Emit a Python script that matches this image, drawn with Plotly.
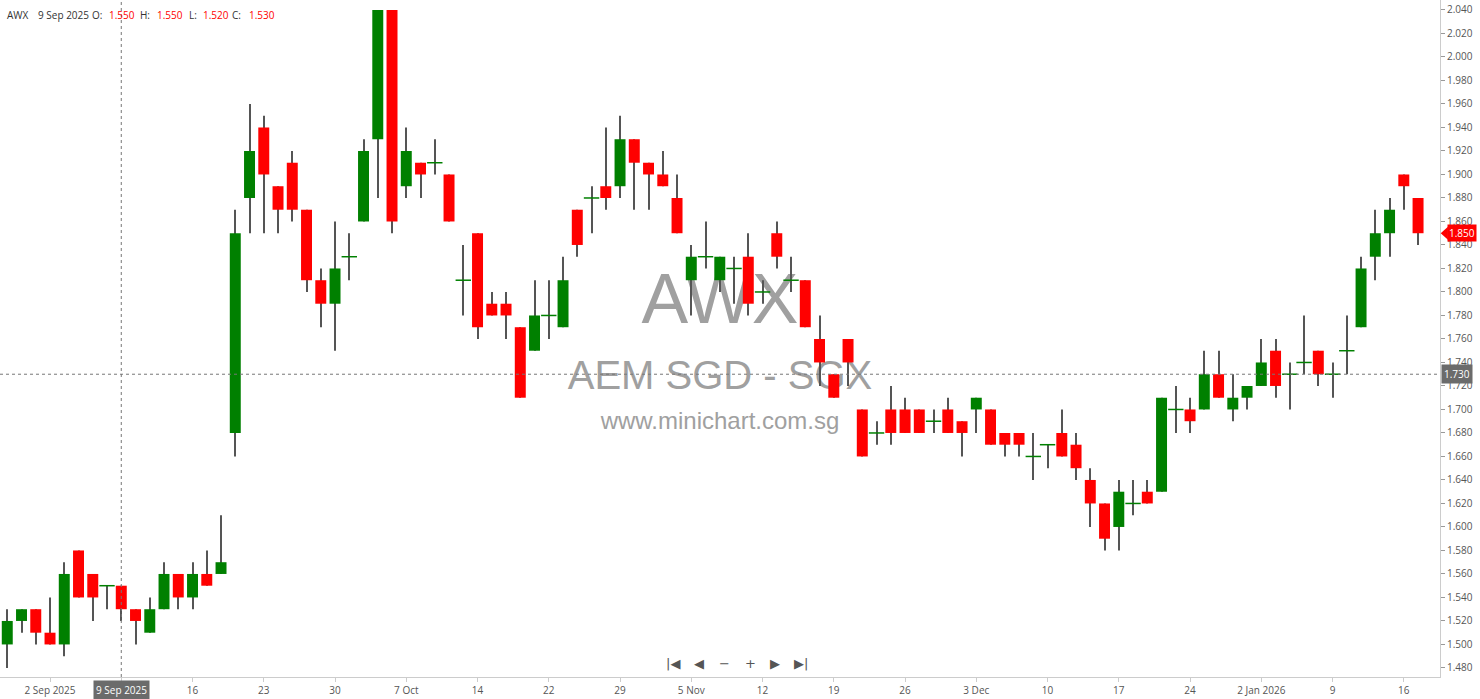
import plotly.graph_objects as go

# ---- data ----
opens = [1.50, 1.52, 1.53, 1.51, 1.50, 1.58, 1.56, 1.55, 1.55, 1.53,
         1.51, 1.53, 1.56, 1.54, 1.56, 1.56, 1.68, 1.88, 1.94, 1.89,
         1.91, 1.87, 1.81, 1.79, 1.83, 1.86, 1.93, 2.04, 1.89, 1.91,
         1.91, 1.90, 1.81, 1.85, 1.79, 1.79, 1.77, 1.75, 1.78, 1.77,
         1.87, 1.88, 1.89, 1.89, 1.93, 1.91, 1.90, 1.88, 1.81, 1.83,
         1.81, 1.82, 1.83, 1.80, 1.85, 1.81, 1.81, 1.76, 1.73, 1.76,
         1.70, 1.68, 1.70, 1.70, 1.70, 1.69, 1.70, 1.69, 1.70, 1.70,
         1.68, 1.68, 1.66, 1.67, 1.68, 1.67, 1.64, 1.62, 1.60, 1.62,
         1.63, 1.63, 1.70, 1.70, 1.70, 1.73, 1.70, 1.71, 1.72, 1.75,
         1.73, 1.74, 1.75, 1.73, 1.75, 1.77, 1.83, 1.85, 1.90, 1.88]
highs = [1.53, 1.53, 1.53, 1.54, 1.57, 1.58, 1.56, 1.55, 1.55, 1.53,
         1.54, 1.57, 1.56, 1.57, 1.58, 1.61, 1.87, 1.96, 1.95, 1.89,
         1.92, 1.87, 1.82, 1.86, 1.85, 1.93, 2.04, 2.04, 1.94, 1.91,
         1.93, 1.90, 1.84, 1.85, 1.80, 1.80, 1.77, 1.81, 1.81, 1.83,
         1.87, 1.89, 1.94, 1.95, 1.93, 1.91, 1.92, 1.90, 1.84, 1.86,
         1.83, 1.83, 1.85, 1.81, 1.86, 1.83, 1.81, 1.78, 1.73, 1.76,
         1.70, 1.69, 1.72, 1.71, 1.70, 1.70, 1.71, 1.69, 1.71, 1.70,
         1.68, 1.68, 1.68, 1.67, 1.70, 1.68, 1.65, 1.62, 1.64, 1.64,
         1.64, 1.71, 1.72, 1.71, 1.75, 1.75, 1.73, 1.72, 1.76, 1.76,
         1.74, 1.78, 1.75, 1.74, 1.78, 1.83, 1.87, 1.88, 1.90, 1.88]
lows = [1.48, 1.51, 1.50, 1.50, 1.49, 1.54, 1.52, 1.53, 1.52, 1.50,
        1.51, 1.53, 1.53, 1.53, 1.55, 1.56, 1.66, 1.85, 1.85, 1.85,
        1.86, 1.80, 1.77, 1.75, 1.81, 1.86, 1.88, 1.85, 1.88, 1.88,
        1.90, 1.86, 1.78, 1.76, 1.78, 1.76, 1.71, 1.75, 1.76, 1.77,
        1.83, 1.85, 1.87, 1.88, 1.87, 1.87, 1.89, 1.85, 1.78, 1.82,
        1.80, 1.79, 1.78, 1.79, 1.82, 1.80, 1.77, 1.72, 1.71, 1.72,
        1.66, 1.67, 1.67, 1.68, 1.68, 1.68, 1.68, 1.66, 1.68, 1.67,
        1.66, 1.66, 1.64, 1.65, 1.66, 1.64, 1.60, 1.58, 1.58, 1.61,
        1.62, 1.63, 1.68, 1.68, 1.70, 1.71, 1.69, 1.70, 1.72, 1.71,
        1.70, 1.73, 1.72, 1.71, 1.73, 1.77, 1.81, 1.83, 1.87, 1.84]
closes = [1.52, 1.53, 1.51, 1.50, 1.56, 1.54, 1.54, 1.55, 1.53, 1.52,
          1.53, 1.56, 1.54, 1.56, 1.55, 1.57, 1.85, 1.92, 1.90, 1.87,
          1.87, 1.81, 1.79, 1.82, 1.83, 1.92, 2.04, 1.86, 1.92, 1.90,
          1.91, 1.86, 1.81, 1.77, 1.78, 1.78, 1.71, 1.78, 1.78, 1.81,
          1.84, 1.88, 1.88, 1.93, 1.91, 1.90, 1.89, 1.85, 1.83, 1.83,
          1.83, 1.82, 1.79, 1.80, 1.83, 1.81, 1.77, 1.74, 1.71, 1.74,
          1.66, 1.68, 1.68, 1.68, 1.68, 1.69, 1.68, 1.68, 1.71, 1.67,
          1.67, 1.67, 1.66, 1.67, 1.66, 1.65, 1.62, 1.59, 1.63, 1.62,
          1.62, 1.71, 1.70, 1.69, 1.73, 1.71, 1.71, 1.72, 1.74, 1.72,
          1.73, 1.74, 1.73, 1.73, 1.75, 1.82, 1.85, 1.87, 1.89, 1.85]
tick_labels = ["2 Sep 2025", "9 Sep 2025", "16", "23", "30", "7 Oct", "14", "22",
               "29", "5 Nov", "12", "19", "26", "3 Dec", "10", "17", "24",
               "2 Jan 2026", "9", "16"]
symbol = "AWX"
cross_index = 8          # candle under the crosshair (9 Sep 2025)
cross_price = 1.73
last_close = closes[-1]

GREEN = "#008000"
RED = "#ff0000"
WICK = "#555555"
FONT = "Open Sans"

n = len(opens)
idx = list(range(n))
tickvals = [3 + 5 * k for k in range(len(tick_labels))]

body_x, body_base, body_h, body_col = [], [], [], []
doji_x, doji_y = [], []
for i, o, c in zip(idx, opens, closes):
    if abs(c - o) < 1e-9:
        doji_x.append(i)
        doji_y.append(c)
    else:
        body_x.append(i)
        body_base.append(min(o, c))
        body_h.append(abs(c - o))
        body_col.append(GREEN if c > o else RED)

fig = go.Figure()
fig.add_trace(go.Bar(x=idx, base=lows, y=[h - l for h, l in zip(highs, lows)],
                     width=0.07, marker=dict(color=WICK, line=dict(width=0)),
                     hoverinfo="skip"))
fig.add_trace(go.Bar(x=body_x, base=body_base, y=body_h, width=0.77,
                     marker=dict(color=body_col, line=dict(width=0)),
                     hoverinfo="skip"))
fig.add_trace(go.Scatter(x=doji_x, y=doji_y, mode="markers",
                         marker=dict(symbol="line-ew", size=11,
                                     line=dict(width=1.5, color=GREEN)),
                         hoverinfo="skip"))

shapes = []
# watermark (below the candles)
for txt, yc, fs in [(symbol, 1 - 292 / 677, 70),
                    ("AEM SGD - SGX", 1 - 371 / 677, 40),
                    ("www.minichart.com.sg", 1 - 418 / 677, 24)]:
    shapes.append(dict(type="rect", xref="paper", yref="paper",
                       x0=0.35, x1=0.65, y0=yc - 0.03, y1=yc + 0.03,
                       line=dict(width=0), fillcolor="rgba(0,0,0,0)", layer="below",
                       label=dict(text=txt, textposition="middle center",
                                  font=dict(size=fs, color="#a0a0a0",
                                            family="Liberation Sans"))))
# crosshair
shapes.append(dict(type="line", xref="x", yref="paper", x0=cross_index, x1=cross_index,
                   y0=0, y1=1, line=dict(color="#777777", width=1, dash="dot")))
shapes.append(dict(type="line", xref="paper", yref="y", x0=0, x1=1,
                   y0=cross_price, y1=cross_price,
                   line=dict(color="#777777", width=1, dash="dot")))
# last-price pointer
shapes.append(dict(type="path", xref="paper", yref="y",
                   path=f"M 1.0005,{last_close} L 1.0055,{last_close + 0.0055} "
                        f"L 1.0055,{last_close - 0.0055} Z",
                   fillcolor=RED, line=dict(width=0)))

annotations = []
hy = 1 - 15 / 677
header = [("AWX", 5, "#333333"), ("9 Sep 2025", 36, "#333333"),
          ("O:", 90, "#333333"), (f"{opens[cross_index]:.3f}", 107, RED),
          ("H:", 138, "#333333"), (f"{highs[cross_index]:.3f}", 155, RED),
          ("L:", 187, "#333333"), (f"{lows[cross_index]:.3f}", 201, RED),
          ("C:", 230, "#333333"), (f"{closes[cross_index]:.3f}", 247, RED)]
for txt, px, col in header:
    annotations.append(dict(text=txt, xref="paper", yref="paper", x=px / 1440, y=hy,
                            xanchor="left", yanchor="middle", showarrow=False,
                            font=dict(size=10, color=col, family=FONT)))
# navigation buttons
for txt, px in [("|◀", 673), ("◀", 699), ("−", 724), ("+", 750), ("▶", 775), ("▶|", 801)]:
    annotations.append(dict(text=txt, xref="paper", yref="paper", x=px / 1440,
                            y=1 - 663 / 677, xanchor="center", yanchor="middle",
                            showarrow=False,
                            font=dict(size=13, color="#555555", family="DejaVu Sans")))
# crosshair labels
annotations.append(dict(text=f"{cross_price:.3f}", xref="paper", yref="y", x=1, y=cross_price,
                        xanchor="left", yanchor="middle", showarrow=False, xshift=1,
                        bgcolor="#6b6b6b", borderpad=2,
                        font=dict(size=10, color="white", family=FONT)))
annotations.append(dict(text=tick_labels[1], xref="x", yref="paper", x=cross_index, y=0,
                        xanchor="center", yanchor="top", showarrow=False, yshift=-3,
                        bgcolor="#6b6b6b", borderpad=2,
                        font=dict(size=10, color="white", family=FONT)))
annotations.append(dict(text=f"{last_close:.3f}", xref="paper", yref="y", x=1, y=last_close,
                        xanchor="left", yanchor="middle", showarrow=False, xshift=7,
                        bgcolor=RED, borderpad=1,
                        font=dict(size=10, color="white", family=FONT)))

fig.update_layout(
    width=1480, height=699,
    margin=dict(l=0, r=40, t=0, b=22),
    paper_bgcolor="white", plot_bgcolor="white",
    showlegend=False, barmode="overlay", hovermode=False,
    shapes=shapes, annotations=annotations,
    xaxis=dict(range=[-0.51, 100.54], tickvals=tickvals, ticktext=tick_labels,
               showgrid=False, zeroline=False, showline=True, linecolor="#cccccc",
               ticks="outside", ticklen=4, tickcolor="#cccccc",
               tickfont=dict(size=10, color="#555555", family=FONT)),
    yaxis=dict(side="right", range=[1.4723, 2.0485], tick0=1.48, dtick=0.02,
               tickformat=".3f", showgrid=False, zeroline=False, showline=True,
               linecolor="#cccccc", ticks="outside", ticklen=4, tickcolor="#999999",
               tickfont=dict(size=10, color="#555555", family=FONT)),
)

fig.write_html("out.html",
               config={"displayModeBar": False},
               post_script="document.body.style.margin='0';"
                           "document.body.style.overflow='hidden';")
